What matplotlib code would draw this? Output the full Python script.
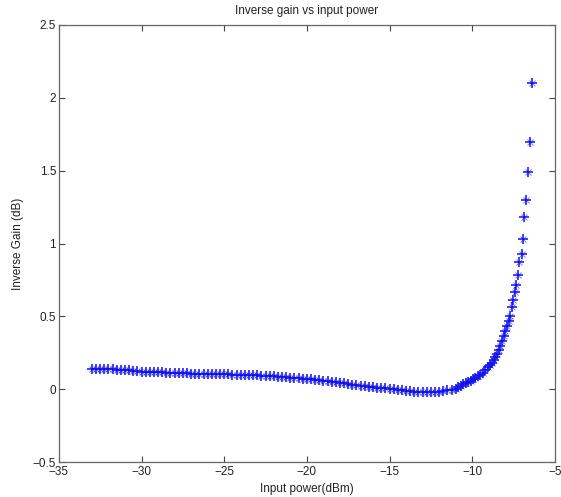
import matplotlib
matplotlib.use("Agg")
import matplotlib.pyplot as plt

input_power = [
    -33.0, -32.75, -32.5, -32.25, -32.0, -31.75, -31.5, -31.25, -31.0, -30.75,
    -30.5, -30.25, -30.0, -29.75, -29.5, -29.25, -29.0, -28.75, -28.5, -28.25,
    -28.0, -27.75, -27.5, -27.25, -27.0, -26.75, -26.5, -26.25, -26.0, -25.75,
    -25.5, -25.25, -25.0, -24.75, -24.5, -24.25, -24.0, -23.75, -23.5, -23.25,
    -23.0, -22.75, -22.5, -22.25, -22.0, -21.75, -21.5, -21.25, -21.0, -20.75,
    -20.5, -20.25, -20.0, -19.75, -19.5, -19.25, -19.0, -18.75, -18.5, -18.25,
    -18.0, -17.75, -17.5, -17.25, -17.0, -16.75, -16.5, -16.25, -16.0, -15.75,
    -15.5, -15.25, -15.0, -14.75, -14.5, -14.25, -14.0, -13.75, -13.5, -13.25,
    -13.0, -12.75, -12.5, -12.25, -12.0, -11.75, -11.5, -11.25, -11.0,
    -10.85, -10.7, -10.55, -10.4, -10.25, -10.1, -9.95, -9.8, -9.65, -9.5,
    -9.35, -9.2, -9.05, -8.9, -8.8, -8.7, -8.6, -8.5, -8.4, -8.3,
    -8.2, -8.1, -8.0, -7.9, -7.8, -7.7, -7.6, -7.52, -7.43, -7.35,
    -7.25, -7.15, -7.0, -6.91, -6.85, -6.75, -6.61, -6.5, -6.4,
]

inverse_gain = [
    0.140, 0.140, 0.139, 0.139, 0.137, 0.136, 0.135, 0.134, 0.132, 0.130,
    0.127, 0.124, 0.122, 0.121, 0.119, 0.118, 0.117, 0.116, 0.115, 0.114,
    0.113, 0.112, 0.110, 0.109, 0.108, 0.107, 0.106, 0.106, 0.105, 0.105,
    0.104, 0.103, 0.103, 0.102, 0.101, 0.100, 0.100, 0.099, 0.097, 0.096,
    0.095, 0.093, 0.092, 0.090, 0.089, 0.087, 0.085, 0.083, 0.081, 0.079,
    0.077, 0.074, 0.071, 0.068, 0.065, 0.062, 0.058, 0.055, 0.052, 0.048,
    0.045, 0.042, 0.038, 0.033, 0.030, 0.026, 0.022, 0.018, 0.015, 0.012,
    0.009, 0.006, 0.004, 0.000, -0.004, -0.008, -0.011, -0.013, -0.015, -0.017,
    -0.019, -0.020, -0.019, -0.017, -0.015, -0.012, -0.008, -0.003, 0.005,
    0.016, 0.025, 0.035, 0.043, 0.050, 0.058, 0.068, 0.077, 0.088, 0.100,
    0.113, 0.130, 0.150, 0.168, 0.182, 0.200, 0.222, 0.245, 0.268, 0.295,
    0.330, 0.365, 0.400, 0.432, 0.470, 0.505, 0.565, 0.615, 0.670, 0.715,
    0.785, 0.870, 0.930, 1.030, 1.185, 1.300, 1.490, 1.695, 2.100,
]

x_ticks = [-35, -30, -25, -20, -15, -10, -5]
y_ticks = [-0.5, 0, 0.5, 1, 1.5, 2, 2.5]
y_tick_labels = ["\u22120.5", "0", "0.5", "1", "1.5", "2", "2.5"]
x_tick_labels = ["\u221235", "\u221230", "\u221225", "\u221220", "\u221215", "\u221210", "\u22125"]

plt.rcParams['font.family'] = ['Liberation Sans', 'DejaVu Sans']

fig = plt.figure(figsize=(5.61, 4.97), dpi=100)
ax = fig.add_axes([0.105, 0.070, 0.884, 0.880])

blue = '#1010ee'
ax.plot(input_power, inverse_gain, linestyle='none', marker='+', markersize=7,
        markeredgewidth=1.1, color=blue)
ax.plot(input_power, inverse_gain, linestyle='none', marker='x', markersize=4.5,
        markeredgewidth=0.7, color=blue, alpha=0.55)

ax.set_xlim(-35, -5)
ax.set_ylim(-0.5, 2.5)
ax.set_xticks(x_ticks)
ax.set_xticklabels(x_tick_labels)
ax.set_yticks(y_ticks)
ax.set_yticklabels(y_tick_labels)

spine_color = '#666666'
for s in ax.spines.values():
    s.set_color(spine_color)
    s.set_linewidth(0.9)
ax.tick_params(direction='in', length=4, width=0.8, color='#444444',
               top=True, right=True, labelsize=8.5, labelcolor='#222222', pad=2)
ax.tick_params(axis='x', pad=3)

ax.set_title("Inverse gain vs input power", fontsize=8.5, color='#222222', pad=8)
ax.set_xlabel("Input power(dBm)", fontsize=8.5, color='#222222', labelpad=3)
ax.set_ylabel("Inverse Gain (dB)", fontsize=8.5, color='#222222', labelpad=6)

fig.savefig("out.png", dpi=100)
